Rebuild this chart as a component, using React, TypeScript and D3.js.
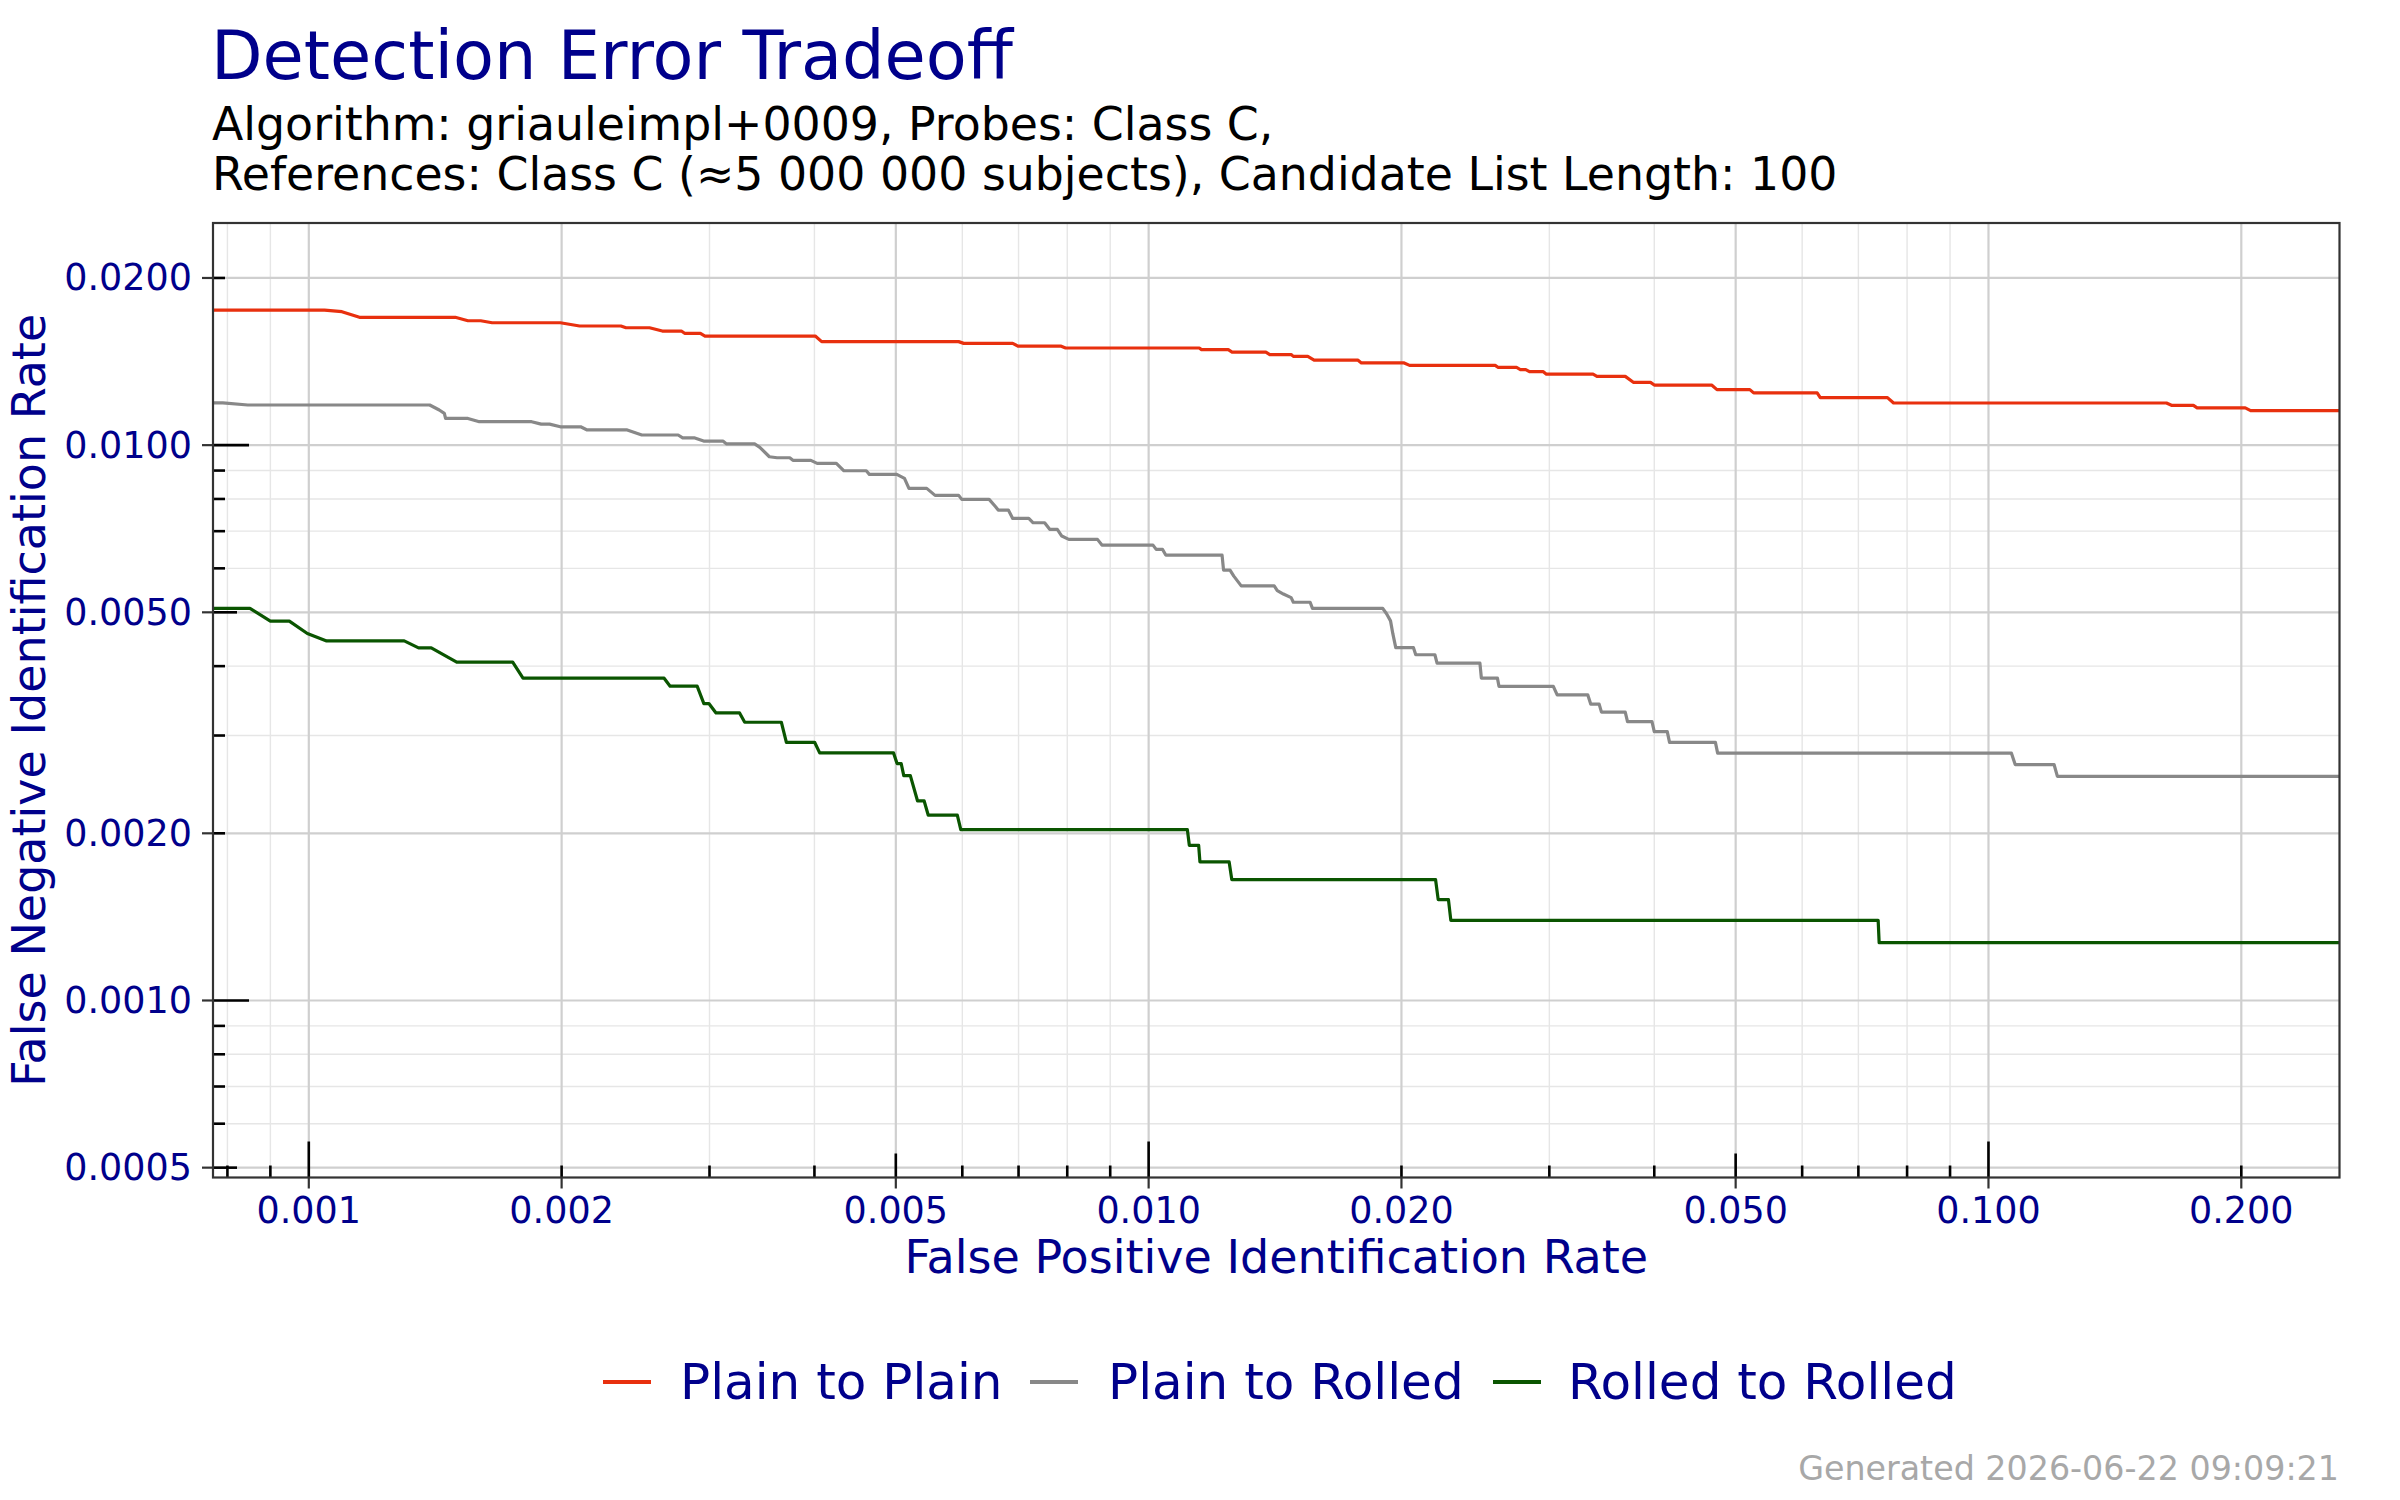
import React from "react";
import * as d3 from "d3";

// ---------- data ----------
const SERIES_NAMES = ["Plain to Plain", "Plain to Rolled", "Rolled to Rolled"];
const SERIES_COLORS = ["#e8300e", "#888888", "#0a5500"];

// [FPIR, FNIR]
const plainToPlain: [number, number][] = [
  [0.000769, 0.01751], [0.001044, 0.01751], [0.001095, 0.01739], [0.001149, 0.01699],
  [0.001494, 0.01699], [0.001547, 0.01675], [0.001602, 0.01675], [0.001653, 0.01661],
  [0.001993, 0.01661], [0.002101, 0.01639], [0.002353, 0.01639], [0.002386, 0.01627],
  [0.002545, 0.01627], [0.002636, 0.01605], [0.002777, 0.01605], [0.002802, 0.0159],
  [0.002926, 0.0159], [0.002963, 0.01572], [0.004009, 0.01572], [0.00408, 0.01536],
  [0.005939, 0.01536], [0.006023, 0.01525], [0.006889, 0.01525], [0.006986, 0.01508],
  [0.007856, 0.01508], [0.007964, 0.01496], [0.01149, 0.01496], [0.01156, 0.01486],
  [0.01244, 0.01486], [0.01257, 0.01471], [0.01379, 0.01471], [0.01394, 0.01456],
  [0.01478, 0.01456], [0.01487, 0.01445], [0.01547, 0.01445], [0.01574, 0.01423],
  [0.01774, 0.01423], [0.01792, 0.01406], [0.02015, 0.01406], [0.02045, 0.01392],
  [0.02586, 0.01392], [0.02608, 0.0138], [0.02742, 0.0138], [0.02771, 0.01368],
  [0.02812, 0.01368], [0.02841, 0.01356], [0.02951, 0.01356], [0.02976, 0.01342],
  [0.03382, 0.01342], [0.03418, 0.0133], [0.03694, 0.0133], [0.0378, 0.01297],
  [0.03959, 0.01297], [0.04, 0.01283], [0.04681, 0.01283], [0.0475, 0.01259],
  [0.05198, 0.01259], [0.05253, 0.01242], [0.06252, 0.01242], [0.06305, 0.01218],
  [0.07581, 0.01218], [0.07709, 0.01191], [0.1629, 0.01191], [0.1654, 0.01179],
  [0.1754, 0.01179], [0.1772, 0.01167], [0.2022, 0.01167], [0.2052, 0.01154],
  [0.2618, 0.01154],
];

const plainToRolled: [number, number][] = [
  [0.000769, 0.01192], [0.00079, 0.01192], [0.000846, 0.01181], [0.001393, 0.01181],
  [0.00143, 0.01157], [0.00145, 0.01141], [0.001455, 0.01117], [0.001547, 0.01117],
  [0.001596, 0.01102], [0.001842, 0.01102], [0.001891, 0.01091], [0.001935, 0.01091],
  [0.001993, 0.01079], [0.002107, 0.01079], [0.002145, 0.01065], [0.002394, 0.01065],
  [0.002492, 0.01043], [0.002753, 0.01043], [0.002787, 0.01031], [0.002876, 0.01031],
  [0.002952, 0.01017], [0.003112, 0.01017], [0.003144, 0.01005], [0.003395, 0.01005],
  [0.003444, 0.009909], [0.003535, 0.00953], [0.00361, 0.00949], [0.003738, 0.00949],
  [0.003771, 0.009389], [0.003961, 0.009389], [0.00403, 0.009273], [0.004248, 0.009273],
  [0.004337, 0.008992], [0.004611, 0.008992], [0.00465, 0.008859], [0.005013, 0.008859],
  [0.00512, 0.008713], [0.005183, 0.008359], [0.005442, 0.008359], [0.005568, 0.00812],
  [0.005941, 0.00812], [0.005991, 0.007986], [0.006458, 0.007986], [0.006573, 0.007745],
  [0.00662, 0.00764], [0.006807, 0.00764], [0.006889, 0.007381], [0.007199, 0.007381],
  [0.007286, 0.007248], [0.007519, 0.007248], [0.007624, 0.007053], [0.007785, 0.007053],
  [0.007881, 0.00686], [0.008034, 0.006766], [0.008691, 0.006766], [0.008798, 0.006607],
  [0.01012, 0.006607], [0.01021, 0.00649], [0.01039, 0.00649], [0.01048, 0.006339],
  [0.01223, 0.006339], [0.01228, 0.005955], [0.0125, 0.005955], [0.01263, 0.005809],
  [0.01289, 0.00558], [0.01411, 0.00558], [0.01423, 0.005472], [0.01447, 0.005393],
  [0.01478, 0.005313], [0.01487, 0.005213], [0.01557, 0.005213], [0.01567, 0.005083],
  [0.019, 0.005083], [0.0192, 0.00497], [0.01941, 0.004826], [0.01953, 0.004581],
  [0.01969, 0.004318], [0.02067, 0.004318], [0.0208, 0.004193], [0.02192, 0.004193],
  [0.02205, 0.004051], [0.0248, 0.004051], [0.0249, 0.003806], [0.02602, 0.003806],
  [0.02613, 0.003679], [0.03033, 0.003679], [0.03065, 0.003551], [0.03333, 0.003551],
  [0.03361, 0.003417], [0.03439, 0.003417], [0.03461, 0.003306], [0.03694, 0.003306],
  [0.03717, 0.003178], [0.03975, 0.003178], [0.04, 0.003049], [0.04145, 0.003049],
  [0.04171, 0.002916], [0.0473, 0.002916], [0.04759, 0.002788], [0.1065, 0.002788],
  [0.1076, 0.00266], [0.1197, 0.00266], [0.1208, 0.002533], [0.2618, 0.002533],
];

const rolledToRolled: [number, number][] = [
  [0.000769, 0.005081], [0.000851, 0.005081], [0.0009, 0.00482], [0.000948, 0.00482],
  [0.000996, 0.004579], [0.00105, 0.004441], [0.001299, 0.004441], [0.001351, 0.004314],
  [0.001399, 0.004314], [0.0015, 0.004066], [0.001749, 0.004066], [0.001799, 0.003805],
  [0.002649, 0.003805], [0.002693, 0.003681], [0.0029, 0.003681], [0.002954, 0.003425],
  [0.002995, 0.003425], [0.003054, 0.003294], [0.003258, 0.003294], [0.003304, 0.00317],
  [0.003653, 0.00317], [0.003704, 0.002917], [0.004002, 0.002917], [0.004058, 0.002791],
  [0.004969, 0.002791], [0.005017, 0.002671], [0.005074, 0.002671], [0.00511, 0.002541],
  [0.005203, 0.002541], [0.005307, 0.002287], [0.005404, 0.002287], [0.005465, 0.002156],
  [0.005918, 0.002156], [0.005975, 0.002031], [0.01112, 0.002031], [0.01118, 0.001903],
  [0.01147, 0.001903], [0.01151, 0.001776], [0.01247, 0.001776], [0.01256, 0.001651],
  [0.02196, 0.001651], [0.02212, 0.001519], [0.02275, 0.001519], [0.0229, 0.001394],
  [0.0739, 0.001394], [0.0741, 0.001271], [0.2618, 0.001271],
];

const SERIES = [plainToPlain, plainToRolled, rolledToRolled];

const X_TICKS = [0.001, 0.002, 0.005, 0.01, 0.02, 0.05, 0.1, 0.2];
const X_TICK_LABELS = ["0.001", "0.002", "0.005", "0.010", "0.020", "0.050", "0.100", "0.200"];
const Y_TICKS = [0.0005, 0.001, 0.002, 0.005, 0.01, 0.02];
const Y_TICK_LABELS = ["0.0005", "0.0010", "0.0020", "0.0050", "0.0100", "0.0200"];
const X_DOMAIN: [number, number] = [0.000769, 0.2618];
const Y_DOMAIN: [number, number] = [0.00048, 0.02512];

const TITLE = "Detection Error Tradeoff";
const SUBTITLE_1 = "Algorithm: griauleimpl+0009, Probes: Class C,";
const SUBTITLE_2 = "References: Class C (\u22485 000 000 subjects), Candidate List Length: 100";
const X_TITLE = "False Positive Identification Rate";
const Y_TITLE = "False Negative Identification Rate";
const FOOTER = "Generated 2026-06-22 09:09:21";

// ---------- layout ----------
const W = 2400;
const H = 1500;
const P = { left: 213, top: 223, right: 2339.5, bottom: 1177.5 };
const FONT = "'DejaVu Sans', sans-serif";
const NAVY = "#00008b";

function logGrid(domain: [number, number]) {
  const out: { v: number; m: number }[] = [];
  for (let k = -5; k <= 0; k++) {
    for (let m = 1; m <= 9; m++) {
      const v = +(m * Math.pow(10, k)).toPrecision(6);
      if (v >= domain[0] && v <= domain[1]) out.push({ v, m });
    }
  }
  return out;
}

export default function App() {
  const x = d3.scaleLog().domain(X_DOMAIN).range([P.left, P.right]);
  const y = d3.scaleLog().domain(Y_DOMAIN).range([P.bottom, P.top]);
  const line = d3
    .line<[number, number]>()
    .x((d) => x(d[0]))
    .y((d) => y(d[1]));

  const xLog = logGrid(X_DOMAIN);
  const yLog = logGrid(Y_DOMAIN);
  const isMajor = (arr: number[], v: number) => arr.some((t) => Math.abs(t - v) / t < 1e-6);
  const tickLen = (m: number) => (m === 1 ? 36 : m === 5 ? 24 : 12);

  const legendKeys = [603, 1030, 1493];
  const legendText = [680, 1108, 1568];

  return (
    <div style={{ position: "absolute", left: 0, top: 0, width: W, height: H, background: "#fff" }}>
      <svg width={W} height={H} viewBox={`0 0 ${W} ${H}`} style={{ display: "block" }} fontFamily={FONT}>
        <rect x={0} y={0} width={W} height={H} fill="#fff" />
        <defs>
          <clipPath id="panelClip">
            <rect x={P.left} y={P.top} width={P.right - P.left} height={P.bottom - P.top} />
          </clipPath>
        </defs>

        {/* titles */}
        <text x={211} y={79} fontSize={67} fill={NAVY}>{TITLE}</text>
        <text x={212} y={140} fontSize={45.8} fill="#000">{SUBTITLE_1}</text>
        <text x={212} y={190} fontSize={45.8} fill="#000">{SUBTITLE_2}</text>

        {/* grid */}
        <g>
          {xLog.filter((d) => !isMajor(X_TICKS, d.v)).map((d) => (
            <line key={"xm" + d.v} x1={x(d.v)} x2={x(d.v)} y1={P.top} y2={P.bottom} stroke="#e6e6e6" strokeWidth={1.4} />
          ))}
          {yLog.filter((d) => !isMajor(Y_TICKS, d.v)).map((d) => (
            <line key={"ym" + d.v} y1={y(d.v)} y2={y(d.v)} x1={P.left} x2={P.right} stroke="#e6e6e6" strokeWidth={1.4} />
          ))}
          {X_TICKS.map((v) => (
            <line key={"xM" + v} x1={x(v)} x2={x(v)} y1={P.top} y2={P.bottom} stroke="#cfcfcf" strokeWidth={2.2} />
          ))}
          {Y_TICKS.map((v) => (
            <line key={"yM" + v} y1={y(v)} y2={y(v)} x1={P.left} x2={P.right} stroke="#cfcfcf" strokeWidth={2.2} />
          ))}
        </g>

        {/* series */}
        <g clipPath="url(#panelClip)">
          {SERIES.map((s, i) => (
            <path key={i} d={line(s) || ""} fill="none" stroke={SERIES_COLORS[i]} strokeWidth={3.2} strokeLinejoin="round" />
          ))}
        </g>

        {/* log ticks */}
        <g stroke="#000" strokeWidth={2.6}>
          {xLog.map((d) => (
            <line key={"xl" + d.v} x1={x(d.v)} x2={x(d.v)} y1={P.bottom} y2={P.bottom - tickLen(d.m)} />
          ))}
          {yLog.map((d) => (
            <line key={"yl" + d.v} y1={y(d.v)} y2={y(d.v)} x1={P.left} x2={P.left + tickLen(d.m)} />
          ))}
        </g>

        {/* panel border */}
        <rect x={P.left} y={P.top} width={P.right - P.left} height={P.bottom - P.top} fill="none" stroke="#333" strokeWidth={2.2} />

        {/* axis ticks & labels */}
        <g stroke="#333" strokeWidth={2.2}>
          {X_TICKS.map((v) => (
            <line key={"xt" + v} x1={x(v)} x2={x(v)} y1={P.bottom} y2={P.bottom + 11} />
          ))}
          {Y_TICKS.map((v) => (
            <line key={"yt" + v} y1={y(v)} y2={y(v)} x1={P.left - 11} x2={P.left} />
          ))}
        </g>
        {X_TICKS.map((v, i) => (
          <text key={"xtl" + v} x={x(v)} y={1223} fontSize={36.5} fill={NAVY} textAnchor="middle">{X_TICK_LABELS[i]}</text>
        ))}
        {Y_TICKS.map((v, i) => (
          <text key={"ytl" + v} x={192} y={y(v)} fontSize={36.5} fill={NAVY} textAnchor="end" dominantBaseline="central">{Y_TICK_LABELS[i]}</text>
        ))}

        {/* axis titles */}
        <text x={(P.left + P.right) / 2} y={1273} fontSize={46} fill={NAVY} textAnchor="middle">{X_TITLE}</text>
        <text transform={`translate(45, ${(P.top + P.bottom) / 2}) rotate(-90)`} fontSize={46} fill={NAVY} textAnchor="middle">{Y_TITLE}</text>

        {/* legend */}
        {SERIES_NAMES.map((name, i) => (
          <g key={name}>
            <line x1={legendKeys[i]} x2={legendKeys[i] + 48} y1={1382} y2={1382} stroke={SERIES_COLORS[i]} strokeWidth={4} />
            <text x={legendText[i]} y={1399} fontSize={50} fill={NAVY}>{name}</text>
          </g>
        ))}

        {/* footer */}
        <text x={2339} y={1480} fontSize={33.3} fill="#a8a8a8" textAnchor="end">{FOOTER}</text>
      </svg>
    </div>
  );
}
